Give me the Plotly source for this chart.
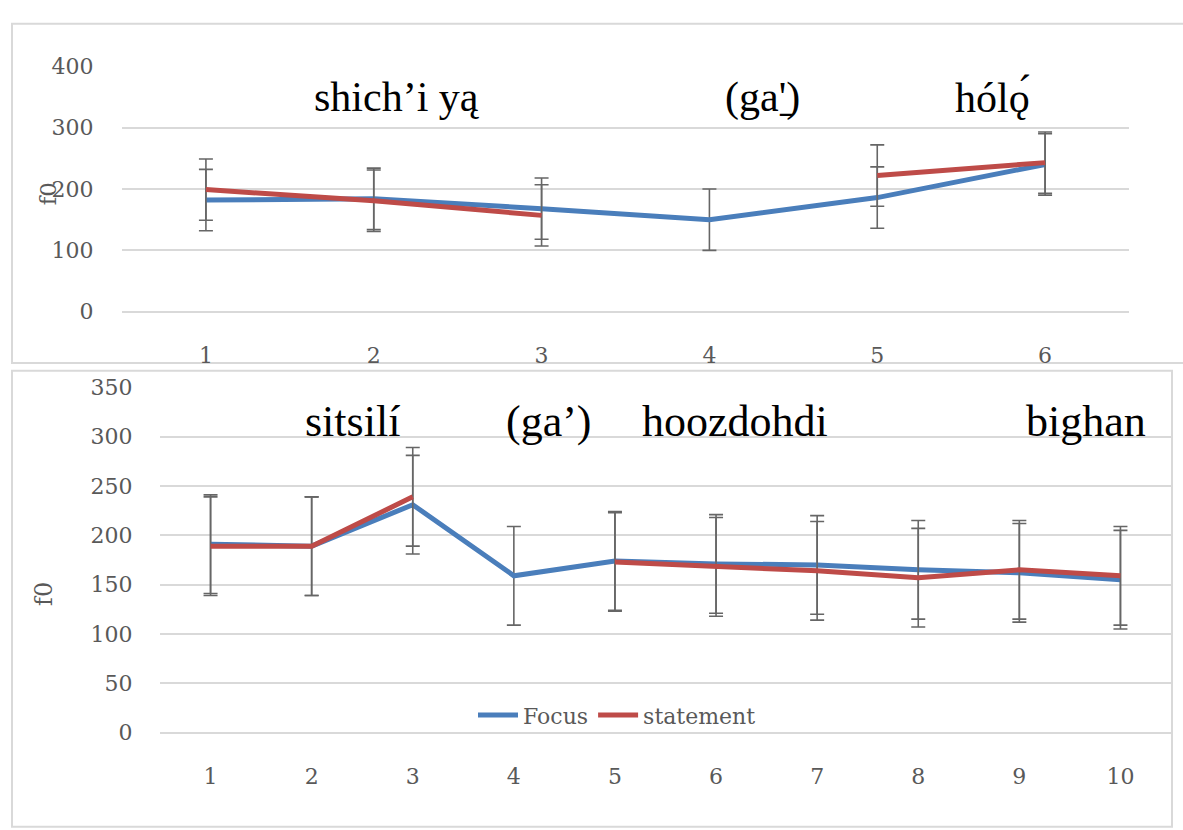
import plotly.graph_objects as go

W, H = 1183, 830

# ---------------- data ----------------
top_x = [1, 2, 3, 4, 5, 6]
top_focus = [182, 184, 168, 150, 186, 240]
top_statement = [199, 181, 157, None, 222, 243]

bot_x = [1, 2, 3, 4, 5, 6, 7, 8, 9, 10]
bot_focus = [191, 189, 231, 159, 174, 171, 170, 165, 162, 155]
bot_statement = [189, 189, 239, None, 173, 168, 164, 157, 165, 159]

err_value = 50  # constant error bar (+/-)

top_words = ["shich\u2019i y\u0105", "(ga'\u0331)", "h\u00f3l\u00f3\u0328"]
bot_words = ["sitsil\u00ed", "(ga\u2019)", "hoozdohdi", "bighan"]

top_yticks = [0, 100, 200, 300, 400]
bot_yticks = [0, 50, 100, 150, 200, 250, 300, 350]

# ---------------- styling ----------------
BLUE = "#4A7EBB"
RED = "#BE4B48"
ERR = "#666666"
GRID = "#d9d9d9"
TICK = "#595959"
SERIF = "Liberation Serif"
TSERIF = "DejaVu Serif"


def px_x(x):
    return x / W


def px_y(y):
    return (H - y) / H


fig = go.Figure()


def add_series(x, y, color, name, xa, ya, showlegend):
    fig.add_trace(go.Scatter(
        x=x, y=y, name=name, mode="lines",
        line=dict(color=color, width=5),
        connectgaps=False,
        error_y=dict(type="constant", value=err_value, color=ERR,
                     thickness=1.6, width=7),
        xaxis=xa, yaxis=ya, showlegend=showlegend,
    ))


add_series(top_x, top_focus, BLUE, "Focus", "x", "y", False)
add_series(top_x, top_statement, RED, "statement", "x", "y", False)
add_series(bot_x, bot_focus, BLUE, "Focus", "x2", "y2", True)
add_series(bot_x, bot_statement, RED, "statement", "x2", "y2", True)

tickfont = dict(family=TSERIF, size=22, color=TICK)

fig.update_layout(
    width=W, height=H,
    margin=dict(l=0, r=0, t=0, b=0),
    paper_bgcolor="white", plot_bgcolor="white",
    showlegend=True,
    legend=dict(orientation="h", x=px_x(617), xanchor="center",
                y=px_y(725), yanchor="middle",
                font=dict(family=TSERIF, size=22, color=TICK),
                bgcolor="rgba(0,0,0,0)", itemwidth=40, tracegroupgap=0),
    xaxis=dict(domain=[px_x(122), px_x(1129)], range=[0.5, 6.5],
               tickvals=top_x, ticktext=[str(v) for v in top_x],
               showgrid=False, zeroline=False, showline=False,
               ticks="outside", ticklen=24, tickcolor="rgba(0,0,0,0)",
               tickfont=tickfont, anchor="y"),
    yaxis=dict(domain=[px_y(309), px_y(56)], range=[0, 400],
               tickvals=top_yticks, showgrid=True, gridcolor=GRID, gridwidth=1.5,
               zeroline=True, zerolinecolor=GRID, zerolinewidth=1.5,
               showline=False, ticks="outside", ticklen=23,
               tickcolor="rgba(0,0,0,0)", tickfont=tickfont, anchor="x"),
    xaxis2=dict(domain=[px_x(160), px_x(1171)], range=[0.5, 10.5],
                tickvals=bot_x, ticktext=[str(v) for v in bot_x],
                showgrid=False, zeroline=False, showline=False,
                ticks="outside", ticklen=24, tickcolor="rgba(0,0,0,0)",
                tickfont=tickfont, anchor="y2"),
    yaxis2=dict(domain=[px_y(743), px_y(387)], range=[0, 350],
                tickvals=bot_yticks, showgrid=True, gridcolor=GRID, gridwidth=1.5,
                zeroline=True, zerolinecolor=GRID, zerolinewidth=1.5,
                showline=False, ticks="outside", ticklen=22,
                tickcolor="rgba(0,0,0,0)", tickfont=tickfont, anchor="x2"),
)

# chart frames
fig.add_shape(type="rect", xref="paper", yref="paper",
              x0=px_x(12), x1=px_x(1190), y0=px_y(362), y1=px_y(12),
              line=dict(color=GRID, width=2), layer="below")
fig.add_shape(type="rect", xref="paper", yref="paper",
              x0=px_x(12), x1=px_x(1172), y0=px_y(840), y1=px_y(370),
              line=dict(color=GRID, width=2), layer="below")

# y-axis titles
fig.add_annotation(text="f0", xref="paper", yref="paper", x=px_x(48), y=px_y(188),
                   xanchor="center", yanchor="middle",
                   showarrow=False, textangle=-90,
                   font=dict(family=TSERIF, size=23, color=TICK))
fig.add_annotation(text="f0", xref="paper", yref="paper", x=px_x(44), y=px_y(600),
                   xanchor="center", yanchor="middle",
                   showarrow=False, textangle=-90,
                   font=dict(family=TSERIF, size=24, color=TICK))

# word labels
top_pos = [397, 762, 992]
for word, xp in zip(top_words, top_pos):
    fig.add_annotation(text=word, xref="paper", yref="paper", x=px_x(xp), y=px_y(88),
                       xanchor="center", yanchor="middle",
                       showarrow=False, font=dict(family=SERIF, size=42, color="black"))
bot_pos = [352, 549, 735, 1086]
for word, xp in zip(bot_words, bot_pos):
    fig.add_annotation(text=word, xref="paper", yref="paper", x=px_x(xp), y=px_y(422),
                       xanchor="center", yanchor="middle",
                       showarrow=False, font=dict(family=SERIF, size=44, color="black"))

fig.write_html("out.html",
               post_script="document.body.style.margin='0';document.body.style.overflow='hidden';")
